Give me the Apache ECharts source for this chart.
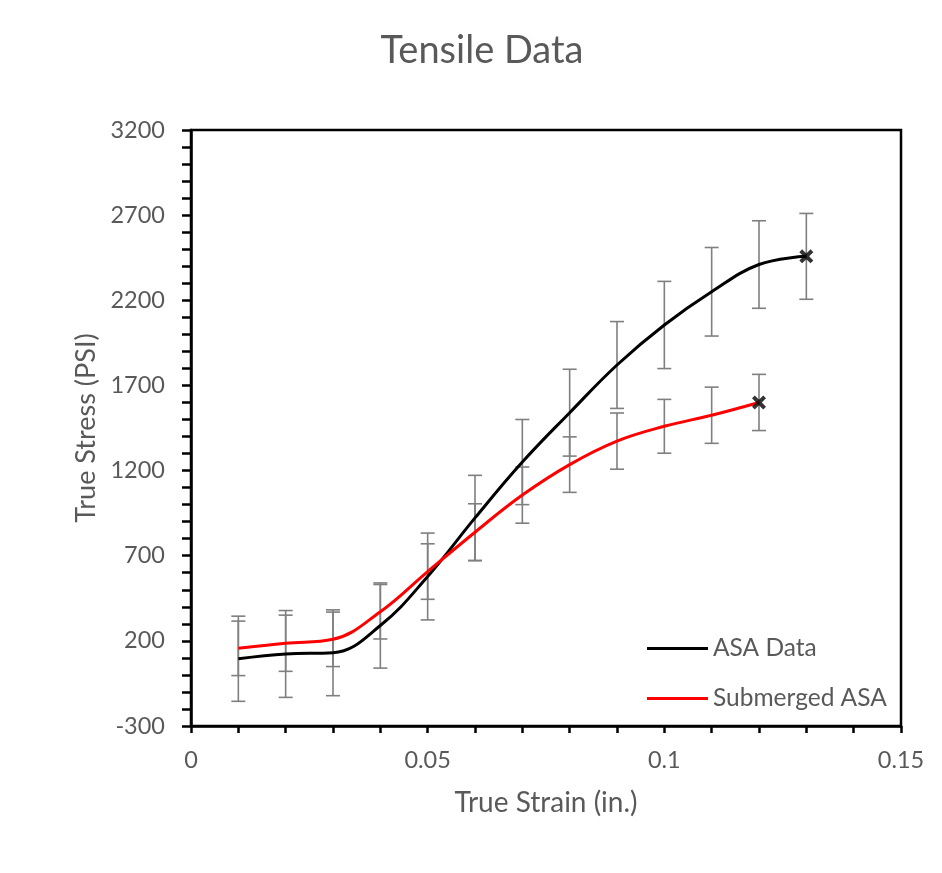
<!DOCTYPE html>
<html><head><meta charset="utf-8">
<script src="https://cdn.jsdelivr.net/npm/echarts@6/dist/echarts.min.js"></script>
<style>html,body{margin:0;padding:0;background:#fff}#c{width:942px;height:873px}</style>
</head><body><div id="c"></div>
<script>
const strain = [0.01, 0.02, 0.03, 0.04, 0.05, 0.06, 0.07, 0.08, 0.09, 0.10, 0.11, 0.12, 0.13];
const asaStress = [95, 123, 130, 290, 578, 922, 1250, 1540, 1820, 2055, 2250, 2410, 2458];
const asaErr = [250, 255, 252, 250, 255, 250, 250, 255, 255, 256, 260, 257, 252];
const subStrain = [0.01, 0.02, 0.03, 0.04, 0.05, 0.06, 0.07, 0.08, 0.09, 0.10, 0.11, 0.12];
const subStress = [156, 186, 209, 371, 607, 838, 1056, 1235, 1373, 1460, 1525, 1600];
const subErr = [160, 165, 160, 160, 163, 167, 165, 163, 165, 158, 165, 165];
const yTicks = [-300, 200, 700, 1200, 1700, 2200, 2700, 3200];
const xTicks = [0, 0.05, 0.1, 0.15];
const seriesNames = ['ASA Data', 'Submerged ASA'];

const FONT = 'Lato';
const GRAY = '#595959';
const xPath = 'path://M0,2 L2,0 L5,3 L8,0 L10,2 L7,5 L10,8 L8,10 L5,7 L2,10 L0,8 L3,5 Z';

function errItem(params, api) {
  const x = api.value(0), lo = api.value(1), hi = api.value(2);
  const pLo = api.coord([x, lo]), pHi = api.coord([x, hi]);
  const w = 7;
  const style = { stroke: '#7f7f7f', lineWidth: 1.6 };
  return { type: 'group', children: [
    { type: 'line', shape: { x1: pHi[0], y1: pHi[1], x2: pLo[0], y2: pLo[1] }, style: style },
    { type: 'line', shape: { x1: pHi[0] - w, y1: pHi[1], x2: pHi[0] + w, y2: pHi[1] }, style: style },
    { type: 'line', shape: { x1: pLo[0] - w, y1: pLo[1], x2: pLo[0] + w, y2: pLo[1] }, style: style }
  ]};
}

const asaData = strain.map((x, i) => [x, asaStress[i]]);
const subData = subStrain.map((x, i) => [x, subStress[i]]);
const asaErrData = strain.map((x, i) => [x, asaStress[i] - asaErr[i], asaStress[i] + asaErr[i]]);
const subErrData = subStrain.map((x, i) => [x, subStress[i] - subErr[i], subStress[i] + subErr[i]]);
const endMarks = [
  [strain[strain.length - 1], asaStress[asaStress.length - 1]],
  [subStrain[subStrain.length - 1], subStress[subStress.length - 1]]
];

const chart = echarts.init(document.getElementById('c'), null, { renderer: 'canvas' });
chart.setOption({
  backgroundColor: '#fff',
  animation: false,
  textStyle: { fontFamily: FONT },
  title: {
    text: 'Tensile Data', left: 477, top: 27, textAlign: 'center',
    textStyle: { fontFamily: FONT, fontSize: 38, fontWeight: 'normal', color: GRAY }
  },
  legend: {
    data: seriesNames, orient: 'vertical', left: 647, top: 636, padding: 0,
    icon: 'rect', itemWidth: 61, itemHeight: 3, itemGap: 25,
    textStyle: { fontFamily: FONT, fontSize: 24.5, color: GRAY, lineHeight: 24 }
  },
  grid: {
    left: 191, top: 130, right: 41, bottom: 147,
    show: true, borderColor: '#000', borderWidth: 2.5, backgroundColor: 'transparent'
  },
  xAxis: {
    type: 'value', min: xTicks[0], max: xTicks[xTicks.length - 1], interval: 0.05,
    name: 'True Strain (in.)', nameLocation: 'middle', nameGap: 63,
    nameTextStyle: { fontFamily: FONT, fontSize: 28, color: GRAY },
    axisLine: { show: true, onZero: false, lineStyle: { color: '#000', width: 2.5 } },
    axisTick: { show: true, length: 7, lineStyle: { color: '#000', width: 2.5 } },
    minorTick: { show: true, splitNumber: 5, length: 7, lineStyle: { color: '#000', width: 2.5 } },
    splitLine: { show: false },
    axisLabel: { fontFamily: FONT, fontSize: 23.5, color: GRAY, margin: 22, formatter: v => String(+v.toFixed(2)) }
  },
  yAxis: {
    type: 'value', min: yTicks[0], max: yTicks[yTicks.length - 1], interval: 500,
    name: 'True Stress (PSI)', nameLocation: 'middle', nameGap: 91, nameRotate: 90,
    nameTextStyle: { fontFamily: FONT, fontSize: 27, color: GRAY },
    axisLine: { show: true, onZero: false, lineStyle: { color: '#000', width: 2.5 } },
    axisTick: { show: true, length: 9, lineStyle: { color: '#000', width: 2.5 } },
    minorTick: { show: true, splitNumber: 5, length: 9, lineStyle: { color: '#000', width: 2.5 } },
    splitLine: { show: false },
    axisLabel: { fontFamily: FONT, fontSize: 23.5, color: GRAY, margin: 26, formatter: v => String(Math.round(v)) }
  },
  series: [
    { name: 'asaErr', type: 'custom', renderItem: errItem, data: asaErrData, encode: { x: 0, y: [1, 2] }, z: 1, silent: true },
    { name: 'subErr', type: 'custom', renderItem: errItem, data: subErrData, encode: { x: 0, y: [1, 2] }, z: 1, silent: true },
    { name: seriesNames[0], type: 'line', data: asaData, smooth: 0.4, showSymbol: false, symbol: 'none',
      lineStyle: { color: '#000', width: 3 }, itemStyle: { color: '#000' }, z: 3 },
    { name: seriesNames[1], type: 'line', data: subData, smooth: 0.4, showSymbol: false, symbol: 'none',
      lineStyle: { color: '#ff0000', width: 3 }, itemStyle: { color: '#ff0000' }, z: 3 },
    { name: 'ends', type: 'scatter', data: endMarks, symbol: xPath, symbolSize: 14,
      itemStyle: { color: '#000' }, z: 5, silent: true }
  ]
});
</script>
</body></html>
